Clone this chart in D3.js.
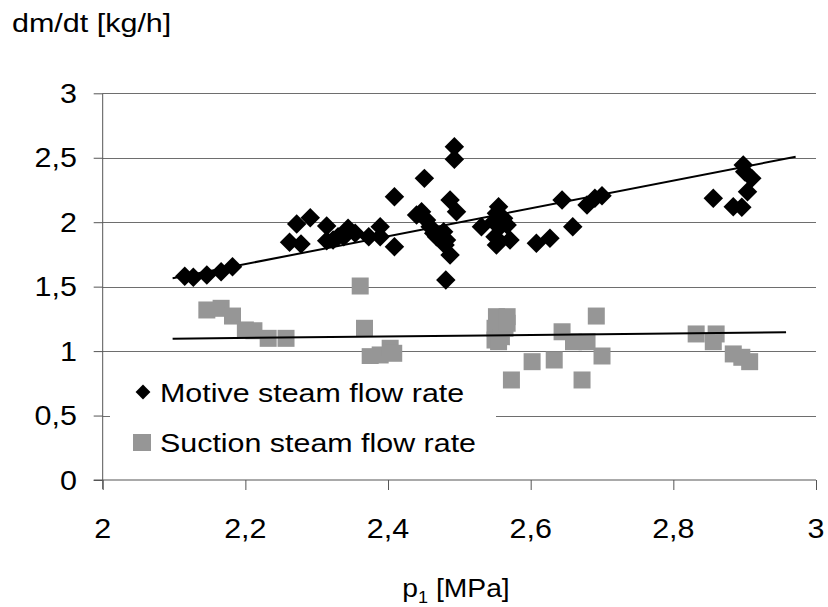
<!DOCTYPE html>
<html>
<head>
<meta charset="utf-8">
<script src="https://cdn.jsdelivr.net/npm/d3@7"></script>
<style>
  html, body { margin: 0; padding: 0; background: #fff; }
  svg { display: block; }
  text { font-family: "Liberation Sans", Arial, sans-serif; fill: #000; }
</style>
</head>
<body>
<div id="chart"></div>
<script>
// ---- Data ----
const motiveX = [2.115, 2.127, 2.146, 2.166, 2.182, 2.262, 2.272, 2.278, 2.291, 2.314, 2.314, 2.33,
  2.323, 2.344, 2.354, 2.338, 2.373, 2.389, 2.389, 2.409, 2.409, 2.451, 2.44, 2.447, 2.454, 2.459,
  2.464, 2.468, 2.478, 2.482, 2.48, 2.487, 2.481, 2.493, 2.493, 2.487, 2.496, 2.531, 2.555, 2.552,
  2.548, 2.562, 2.557, 2.567, 2.55, 2.552, 2.571, 2.608, 2.627, 2.644, 2.659, 2.679, 2.69, 2.7,
  2.856, 2.884, 2.896, 2.898, 2.9, 2.91, 2.904];
const motiveY = [1.58, 1.573, 1.59, 1.616, 1.655, 1.844, 1.986, 1.831, 2.035, 1.97, 1.857, 1.888,
  1.862, 1.953, 1.914, 1.888, 1.888, 1.965, 1.888, 2.198, 1.81, 2.34, 2.056, 2.082, 2.017, 1.965,
  1.914, 1.888, 1.926, 1.862, 1.823, 1.746, 1.552, 2.586, 2.488, 2.172, 2.082, 1.965, 2.12, 2.069,
  2.004, 2.03, 1.965, 1.978, 1.888, 1.823, 1.862, 1.836, 1.875, 2.172, 1.965, 2.133, 2.185, 2.206,
  2.185, 2.12, 2.116, 2.444, 2.392, 2.34, 2.237];
const suctionX = [2.146, 2.166, 2.182, 2.2, 2.212, 2.232, 2.257, 2.361, 2.367, 2.375, 2.389, 2.403,
  2.408, 2.552, 2.567, 2.55, 2.564, 2.55, 2.559, 2.567, 2.555, 2.573, 2.602, 2.633, 2.644, 2.66,
  2.679, 2.692, 2.7, 2.672, 2.832, 2.86, 2.856, 2.884, 2.896, 2.907];
const suctionY = [1.319, 1.332, 1.272, 1.164, 1.158, 1.099, 1.099, 1.505, 1.177, 0.957, 0.97, 1.022,
  0.983, 1.267, 1.267, 1.177, 1.177, 1.086, 1.112, 1.216, 1.073, 0.776, 0.918, 0.931, 1.15, 1.073,
  1.073, 1.272, 0.962, 0.776, 1.133, 1.133, 1.073, 0.978, 0.952, 0.918];
// linear trend lines: [x, y] end points
const motiveTrendX = [2.098, 2.9715];
const motiveTrendY = [1.565, 2.508];
const suctionTrendX = [2.098, 2.958];
const suctionTrendY = [1.096, 1.146];

const xTicks = [2, 2.2, 2.4, 2.6, 2.8, 3];
const xTickLabels = ["2", "2,2", "2,4", "2,6", "2,8", "3"];
const yTicks = [0, 0.5, 1, 1.5, 2, 2.5, 3];
const yTickLabels = ["0", "0,5", "1", "1,5", "2", "2,5", "3"];
const seriesNames = ["Motive steam flow rate", "Suction steam flow rate"];
const yTitle = "dm/dt [kg/h]";

// ---- Layout ----
const W = 828, H = 607;
const svg = d3.select("#chart").append("svg").attr("width", W).attr("height", H);
const x = d3.scaleLinear().domain([2, 3]).range([102.7, 816]);
const y = d3.scaleLinear().domain([0, 3]).range([480, 93.3]);
const fs = 27;

function stretchedText(g, tx, ty, str, size, anchor, sx) {
  return g.append("text")
    .attr("transform", `translate(${tx},${ty}) scale(${sx || 1.13},1)`)
    .attr("text-anchor", anchor || "start")
    .style("font-size", size + "px")
    .text(str);
}

// gridlines
svg.append("g").selectAll("line").data(yTicks.filter(d => d > 0)).join("line")
  .attr("x1", x(2)).attr("x2", x(3))
  .attr("y1", d => Math.round(y(d)) + 0.5).attr("y2", d => Math.round(y(d)) + 0.5)
  .attr("stroke", "#6e6e6e").attr("stroke-width", 1.2);

// y axis
const yAxis = d3.axisLeft(y).tickValues(yTicks).tickSize(9).tickFormat(() => "");
const gy = svg.append("g").attr("transform", `translate(${x(2)},0)`).call(yAxis);
gy.select(".domain").attr("stroke", "#555").attr("d", `M0,${y(3)}V${y(0) + 9}`);
gy.selectAll(".tick line").attr("stroke", "#555");
yTicks.forEach((v, i) => {
  stretchedText(svg, 77, y(v) + 9.5, yTickLabels[i], fs, "end");
});

// x axis
const xAxis = d3.axisBottom(x).tickValues(xTicks).tickSize(10).tickFormat(() => "");
const gx = svg.append("g").attr("transform", `translate(0,${y(0)})`).call(xAxis);
gx.select(".domain").attr("stroke", "#555").attr("d", `M${x(2) - 9},0H${x(3)}`);
gx.selectAll(".tick line").attr("stroke", "#555");
xTicks.forEach((v, i) => {
  stretchedText(svg, x(v), 538, xTickLabels[i], fs, "middle");
});

// axis titles
stretchedText(svg, 12, 32, yTitle, 25, "start", 1.22);
const xt = svg.append("text")
  .attr("transform", `translate(456,597) scale(1.13,1)`)
  .attr("text-anchor", "middle").style("font-size", "25px");
xt.append("tspan").text("p");
xt.append("tspan").attr("dy", 6).style("font-size", "16px").text("1");
xt.append("tspan").attr("dy", -6).text(" [MPa]");

// series points
const diamond = d3.symbol(d3.symbolSquare, 190);
const square = d3.symbol(d3.symbolSquare, 289);
const motive = motiveX.map((v, i) => [v, motiveY[i]]);
const suction = suctionX.map((v, i) => [v, suctionY[i]]);

svg.append("g").selectAll("path").data(motive).join("path")
  .attr("d", diamond)
  .attr("transform", d => `translate(${x(d[0])},${y(d[1])}) rotate(45)`)
  .attr("fill", "#000");

svg.append("g").selectAll("path").data(suction).join("path")
  .attr("d", square)
  .attr("transform", d => `translate(${x(d[0])},${y(d[1])})`)
  .attr("fill", "#969696");

// trend lines
const line = d3.line().x(d => x(d[0])).y(d => y(d[1]));
svg.append("path").datum(motiveTrendX.map((v, i) => [v, motiveTrendY[i]]))
  .attr("d", line).attr("stroke", "#000").attr("stroke-width", 2).attr("fill", "none");
svg.append("path").datum(suctionTrendX.map((v, i) => [v, suctionTrendY[i]]))
  .attr("d", line).attr("stroke", "#000").attr("stroke-width", 2).attr("fill", "none");

// legend
const lg = svg.append("g");
lg.append("rect").attr("x", 110).attr("y", 364).attr("width", 386).attr("height", 104).attr("fill", "#fff");
lg.append("path").attr("d", d3.symbol(d3.symbolSquare, 110))
  .attr("transform", "translate(143,392) rotate(45)").attr("fill", "#000");
lg.append("rect").attr("x", 133).attr("y", 434).attr("width", 18).attr("height", 17).attr("fill", "#969696");
stretchedText(lg, 160, 402, seriesNames[0], 26, "start", 1.17);
stretchedText(lg, 160, 452, seriesNames[1], 26, "start", 1.17);
</script>
</body>
</html>
